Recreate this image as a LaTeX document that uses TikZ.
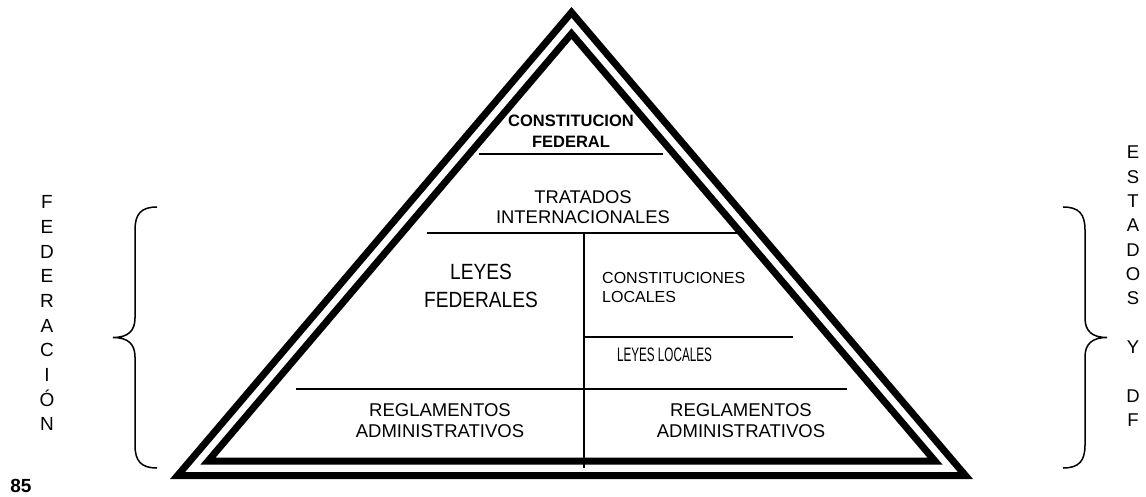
\documentclass[tikz,border=0pt]{standalone}
\usepackage{fontspec}
\setmainfont{Liberation Sans}
\usepackage{graphicx}
\begin{document}
\begin{tikzpicture}[x=1pt,y=-1pt,
  tri/.style={line width=7pt, line join=miter},
  sepline/.style={line width=1.4pt},
  bracestyle/.style={line width=1.5pt},
  lbl/.style={inner sep=0pt, align=center}]
\useasboundingbox (0,0) rectangle (1146,497);
% separator lines
\coordinate (cfL) at (479,154); \coordinate (cfR) at (663,154);
\coordinate (tiL) at (427,233); \coordinate (tiR) at (737,233);
\coordinate (vT) at (584,233); \coordinate (vB) at (584,468);
\coordinate (clL) at (584,337); \coordinate (clR) at (793,337);
\coordinate (rgL) at (296,389); \coordinate (rgR) at (847,389);
\draw[sepline] (cfL) -- (cfR);
\draw[sepline] (tiL) -- (tiR);
\draw[sepline] (vT) -- (vB);
\draw[sepline] (clL) -- (clR);
\draw[sepline] (rgL) -- (rgR);
% triangles
\coordinate (oA) at (571.5,12.4); \coordinate (oL) at (177.6,475.5); \coordinate (oR) at (965.4,475.5);
\coordinate (iA) at (571.5,33.7); \coordinate (iL) at (207.9,461.2); \coordinate (iR) at (935.1,461.2);
\draw[tri] (oA) -- (oR) -- (oL) -- cycle;
\draw[tri] (iA) -- (iR) -- (iL) -- cycle;
% labels
\node[lbl, font=\bfseries\fontsize{16.5}{21}\selectfont] (cf) at (571,131.5) {CONSTITUCION\\FEDERAL};
\node[lbl, font=\fontsize{18.4}{20}\selectfont] (ti) at (583,206.7) {TRATADOS\\INTERNACIONALES};
\node[lbl, font=\fontsize{22}{28}\selectfont] (lf) at (481,285.5) {\scalebox{0.87}[1]{LEYES}\\\scalebox{0.87}[1]{FEDERALES}};
\node[lbl, align=left, anchor=west, font=\fontsize{16}{18.5}\selectfont] (cl) at (602,287.5) {CONSTITUCIONES\\LOCALES};
\node[lbl, font=\fontsize{19.5}{20}\selectfont] (ll) at (664.5,355) {\scalebox{0.6}[1]{LEYES LOCALES}};
\node[lbl, font=\fontsize{18.5}{20.3}\selectfont] (rl) at (440,420.5) {REGLAMENTOS\\ADMINISTRATIVOS};
\node[lbl, font=\fontsize{18.5}{20.3}\selectfont] (rr) at (741,420.5) {REGLAMENTOS\\ADMINISTRATIVOS};
\node[lbl, font=\fontsize{19}{24.67}\selectfont] (fed) at (47,313.3) {F\\E\\D\\E\\R\\A\\C\\I\\Ó\\N};
\node[lbl, font=\fontsize{18.5}{24.33}\selectfont] (edo) at (1133,286.2) {E\\S\\T\\A\\D\\O\\S\\~\\Y\\~\\D\\F};
\node[lbl, font=\bfseries\fontsize{19}{20}\selectfont] (pg) at (21,485.8) {85};
% braces
\coordinate (lbT) at (157,207); \coordinate (lbM) at (113,337.5); \coordinate (lbB) at (157,468);
\draw[bracestyle] (lbT) .. controls (141,207) and (135,214) .. (135,230) -- (135,318)
  .. controls (135,331) and (128,337.5) .. (lbM)
  .. controls (128,337.5) and (135,344) .. (135,357) -- (135,445)
  .. controls (135,461) and (141,468) .. (lbB);
\coordinate (rbT) at (1063,207); \coordinate (rbM) at (1107,337.5); \coordinate (rbB) at (1063,468);
\draw[bracestyle] (rbT) .. controls (1079,207) and (1085,214) .. (1085,230) -- (1085,318)
  .. controls (1085,331) and (1092,337.5) .. (rbM)
  .. controls (1092,337.5) and (1085,344) .. (1085,357) -- (1085,445)
  .. controls (1085,461) and (1079,468) .. (rbB);
\end{tikzpicture}
\end{document}
